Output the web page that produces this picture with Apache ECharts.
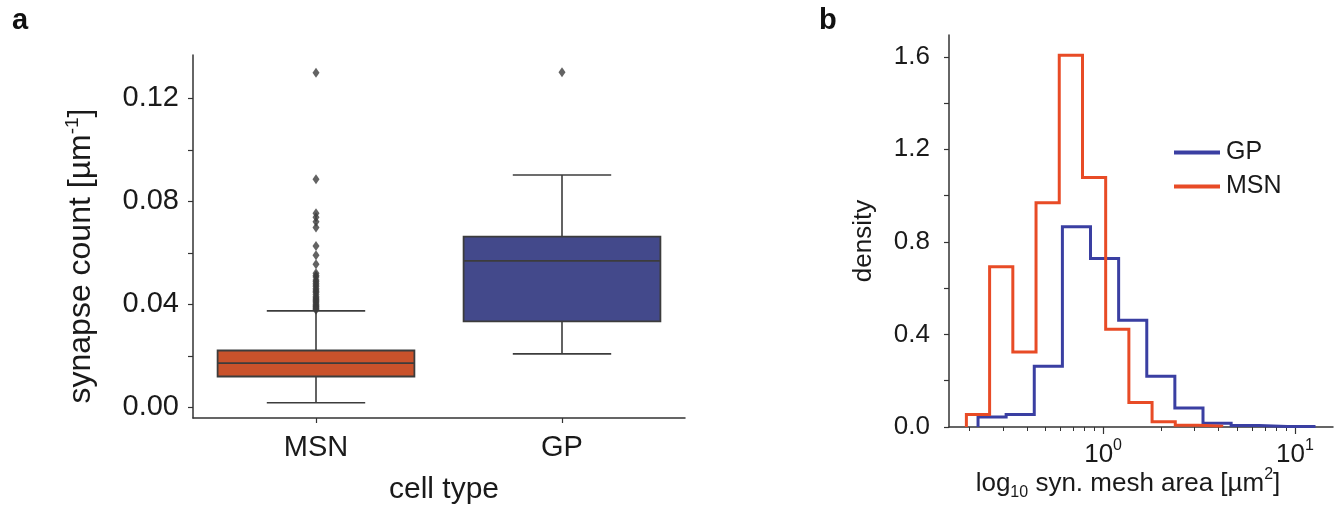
<!DOCTYPE html>
<html><head><meta charset="utf-8">
<script src="https://cdn.jsdelivr.net/npm/echarts@6/dist/echarts.min.js"></script>
<style>html,body{margin:0;padding:0;background:#fff}#c{width:1341px;height:510px}</style>
</head><body><div id="c"></div>
<script>
// ---------- panel a: synapse count per cell type ----------
const cellTypes = ['MSN', 'GP'];
// [lower whisker, Q1, median, Q3, upper whisker]
const boxMSN = [0.0018, 0.0120, 0.0172, 0.0221, 0.0375];
const boxGP = [0.0208, 0.0334, 0.0569, 0.0663, 0.0902];
const outliersMSN = [0.1299, 0.0886, 0.0754, 0.0738, 0.0721, 0.0698, 0.0627, 0.0591, 0.0556, 0.0521,
  0.0512, 0.0506, 0.0495, 0.0489, 0.0482, 0.0475, 0.0469, 0.0462, 0.0456, 0.0450, 0.0445, 0.0437,
  0.0430, 0.0425, 0.0420, 0.0415, 0.0410, 0.0405, 0.0400, 0.0395, 0.0392, 0.0387, 0.0383, 0.0379];
const outliersGP = [0.1301];
const yTicksA = [0, 0.02, 0.04, 0.06, 0.08, 0.10, 0.12];
const yLabelsA = [0, 0.04, 0.08, 0.12];

// ---------- panel b: synapse mesh area histograms (density) ----------
const edgesGP = [0.2229, 0.3123, 0.4377, 0.6135, 0.8598, 1.205, 1.689, 2.366, 3.317, 4.650, 6.516, 9.133, 12.80];
const densGP = [0.043, 0.054, 0.262, 0.865, 0.728, 0.461, 0.219, 0.082, 0.016, 0.006, 0.002, 0.002];
const edgesMSN = [0.1938, 0.2561, 0.3384, 0.4471, 0.5908, 0.7807, 1.0313, 1.3625, 1.800, 2.378, 3.143, 4.153];
const densMSN = [0.054, 0.692, 0.324, 0.969, 1.607, 1.078, 0.4225, 0.1055, 0.023, 0.008, 0.004];
const yTicksB = [0, 0.2, 0.4, 0.6, 0.8, 1.0, 1.2, 1.4, 1.6];
const yLabelsB = [0, 0.4, 0.8, 1.2, 1.6];
const xMajorB = [1, 10];
const xMinorB = [0.2, 0.3, 0.4, 0.5, 0.6, 0.7, 0.8, 0.9, 2, 3, 4, 5, 6, 7, 8, 9];

// ---------- styling ----------
const FONT = '"Liberation Sans", Arial, Helvetica, sans-serif';
const AX = '#333';
const TXT = '#1a1a1a';
const boxFill = ['#c9522b', '#43498b'];
const boxEdge = '#3c3c3c';
const colGP = '#3a3fa2';
const colMSN = '#e84b26';

function stepPoints(edges, dens) {
  const pts = [[edges[0], 0]];
  for (let i = 0; i < dens.length; i++) {
    pts.push([edges[i], dens[i]]);
    pts.push([edges[i + 1], dens[i]]);
  }
  pts.push([edges[dens.length], 0]);
  return pts;
}

const boxData = [[0].concat(boxMSN), [1].concat(boxGP)];
const outData = outliersMSN.map(v => [0, v]).concat(outliersGP.map(v => [1, v]));

const chart = echarts.init(document.getElementById('c'), null, {renderer: 'canvas'});
chart.setOption({
  animation: false,
  backgroundColor: '#fff',
  textStyle: {fontFamily: FONT},
  grid: [
    {left: 193, right: 656, top: 55, bottom: 92, containLabel: false},
    {left: 949, right: 8, top: 35, bottom: 83, containLabel: false}
  ],
  xAxis: [
    {
      gridIndex: 0, type: 'category', data: cellTypes, boundaryGap: true, position: 'bottom',
      axisLine: {onZero: false, lineStyle: {color: AX, width: 1.5}},
      axisTick: {show: true, alignWithLabel: true, length: 5, lineStyle: {color: AX, width: 1.2}},
      axisLabel: {color: TXT, fontSize: 29, fontFamily: FONT, margin: 15},
      splitLine: {show: false}
    },
    {
      gridIndex: 1, type: 'log', logBase: 10, min: 0.1573, max: 15.79, position: 'bottom',
      axisLine: {onZero: false, lineStyle: {color: AX, width: 1.5}},
      axisTick: {customValues: xMajorB, length: 7, lineStyle: {color: AX, width: 1.2}},
      axisLabel: {
        customValues: xMajorB, margin: 11, color: TXT,
        formatter: v => '{b|10}{s|' + Math.round(Math.log10(v)) + '}',
        rich: {
          b: {fontSize: 26, fontFamily: FONT, color: TXT, lineHeight: 30, verticalAlign: 'bottom'},
          s: {fontSize: 16, fontFamily: FONT, color: TXT, lineHeight: 30, verticalAlign: 'top'}
        }
      },
      splitLine: {show: false}, minorTick: {show: false}
    },
    {
      gridIndex: 1, type: 'log', logBase: 10, min: 0.1573, max: 15.79, position: 'bottom', offset: 0,
      axisLine: {show: false, onZero: false},
      axisTick: {customValues: xMinorB, length: 4, lineStyle: {color: AX, width: 1}},
      axisLabel: {show: false},
      splitLine: {show: false}
    }
  ],
  yAxis: [
    {
      gridIndex: 0, type: 'value', min: -0.0041, max: 0.1368,
      axisLine: {show: true, onZero: false, lineStyle: {color: AX, width: 1.5}},
      axisTick: {show: true, customValues: yTicksA, length: 5, lineStyle: {color: AX, width: 1.2}},
      axisLabel: {customValues: yLabelsA, formatter: v => v.toFixed(2), color: TXT, fontSize: 29, fontFamily: FONT, margin: 14},
      splitLine: {show: false}
    },
    {
      gridIndex: 1, type: 'value', min: 0, max: 1.694,
      axisLine: {show: true, onZero: false, lineStyle: {color: AX, width: 1.5}},
      axisTick: {show: true, customValues: yTicksB, length: 5, lineStyle: {color: AX, width: 1.2}},
      axisLabel: {customValues: yLabelsB, formatter: v => v.toFixed(1), color: TXT, fontSize: 26, fontFamily: FONT, margin: 19},
      splitLine: {show: false}
    }
  ],
  legend: {
    data: ['GP', 'MSN'], orient: 'vertical', left: 1169, top: 135,
    icon: 'rect', itemWidth: 46, itemHeight: 4, itemGap: 9,
    textStyle: {fontSize: 25, color: TXT, fontFamily: FONT, padding: [0, 0, 0, 1]}
  },
  series: [
    {
      type: 'custom', name: 'box', xAxisIndex: 0, yAxisIndex: 0,
      data: boxData, encode: {x: 0, y: [1, 2, 3, 4, 5]},
      renderItem: function (params, api) {
        const ci = api.value(0);
        const pMin = api.coord([ci, api.value(1)]);
        const pQ1 = api.coord([ci, api.value(2)]);
        const pMd = api.coord([ci, api.value(3)]);
        const pQ3 = api.coord([ci, api.value(4)]);
        const pMax = api.coord([ci, api.value(5)]);
        const band = api.size([1, 0])[0];
        const half = band * 0.4, cap = band * 0.2;
        const x = pMd[0];
        const ls = {stroke: boxEdge, lineWidth: 1.6};
        return {
          type: 'group', children: [
            {type: 'line', shape: {x1: x, y1: pMin[1], x2: x, y2: pQ1[1]}, style: ls},
            {type: 'line', shape: {x1: x, y1: pQ3[1], x2: x, y2: pMax[1]}, style: ls},
            {type: 'line', shape: {x1: x - cap, y1: pMin[1], x2: x + cap, y2: pMin[1]}, style: ls},
            {type: 'line', shape: {x1: x - cap, y1: pMax[1], x2: x + cap, y2: pMax[1]}, style: ls},
            {type: 'rect', shape: {x: x - half, y: pQ3[1], width: 2 * half, height: pQ1[1] - pQ3[1]},
              style: {fill: boxFill[ci], stroke: boxEdge, lineWidth: 1.8}},
            {type: 'line', shape: {x1: x - half, y1: pMd[1], x2: x + half, y2: pMd[1]}, style: {stroke: boxEdge, lineWidth: 1.8}}
          ]
        };
      }
    },
    {
      type: 'scatter', name: 'outliers', xAxisIndex: 0, yAxisIndex: 0,
      data: outData, symbol: 'diamond', symbolSize: [7, 10],
      itemStyle: {color: boxEdge}
    },
    {
      type: 'line', name: 'GP', xAxisIndex: 1, yAxisIndex: 1,
      data: stepPoints(edgesGP, densGP), showSymbol: false, symbol: 'none',
      lineStyle: {color: colGP, width: 3, join: 'miter'}, itemStyle: {color: colGP}
    },
    {
      type: 'line', name: 'MSN', xAxisIndex: 1, yAxisIndex: 1,
      data: stepPoints(edgesMSN, densMSN), showSymbol: false, symbol: 'none',
      lineStyle: {color: colMSN, width: 3, join: 'miter'}, itemStyle: {color: colMSN}
    }
  ],
  graphic: [
    {type: 'text', left: 12, top: 6, style: {text: 'a', fontSize: 29, fontWeight: 'bold', fill: '#111', fontFamily: FONT}},
    {type: 'text', left: 819, top: 6, style: {text: 'b', fontSize: 29, fontWeight: 'bold', fill: '#111', fontFamily: FONT}},
    {type: 'text', x: 444, y: 490, style: {text: 'cell type', fontSize: 30, fill: TXT, fontFamily: FONT, align: 'center', verticalAlign: 'middle'}},
    {type: 'text', x: 81, y: 256, rotation: Math.PI / 2,
      style: {text: 'synapse count [µm{s|-1}]', fontSize: 32, lineHeight: 36, fill: TXT, fontFamily: FONT, align: 'center', verticalAlign: 'middle',
        rich: {s: {fontSize: 19, lineHeight: 36, verticalAlign: 'top', fill: TXT, fontFamily: FONT}}}},
    {type: 'text', x: 864, y: 241, rotation: Math.PI / 2,
      style: {text: 'density', fontSize: 26, fill: TXT, fontFamily: FONT, align: 'center', verticalAlign: 'middle'}},
    {type: 'text', x: 1128, y: 484,
      style: {text: 'log{d|10} syn. mesh area [µm{s|2}]', fontSize: 26, lineHeight: 34, fill: TXT, fontFamily: FONT, align: 'center', verticalAlign: 'middle',
        rich: {
          d: {fontSize: 16, lineHeight: 34, verticalAlign: 'bottom', fill: TXT, fontFamily: FONT},
          s: {fontSize: 16, lineHeight: 34, verticalAlign: 'top', fill: TXT, fontFamily: FONT}
        }}}
  ]
});
</script></body></html>
